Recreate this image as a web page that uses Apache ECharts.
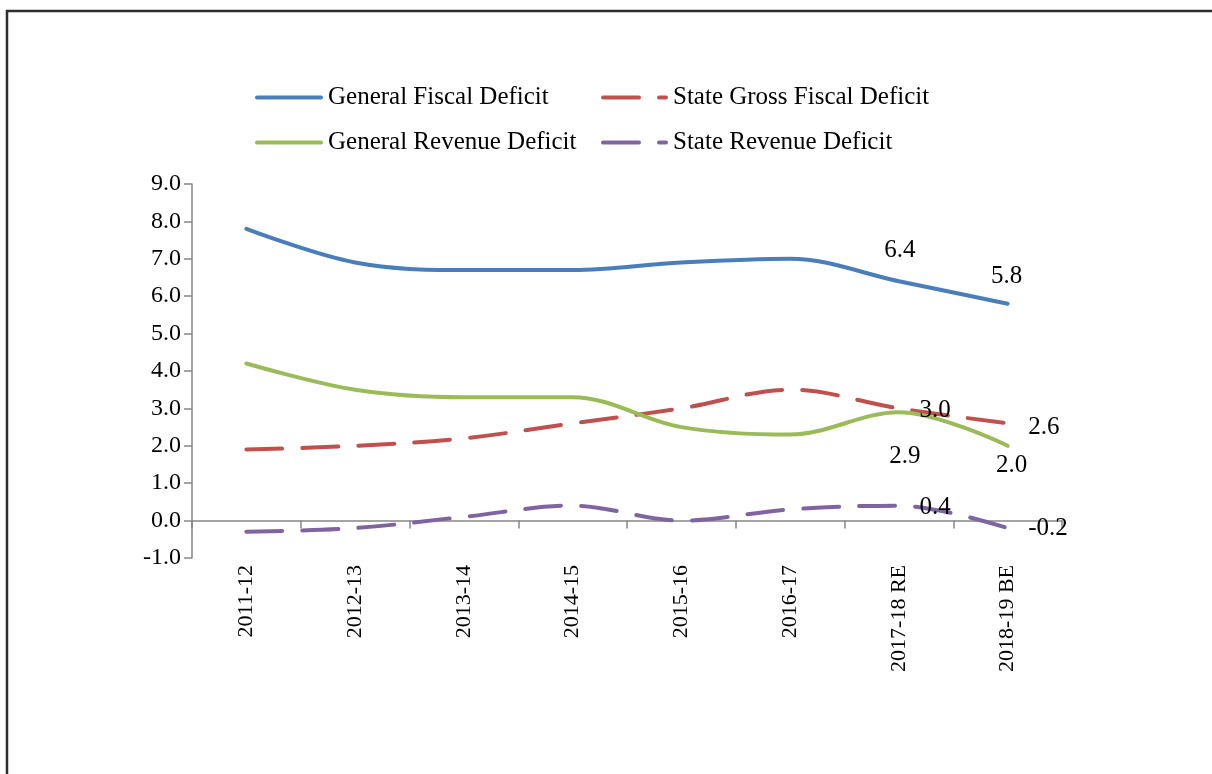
<!DOCTYPE html>
<html>
<head>
<meta charset="utf-8">
<script src="https://cdn.jsdelivr.net/npm/echarts@6/dist/echarts.min.js"></script>
<style>
html,body{margin:0;padding:0;background:#fff;}
#chart{width:1212px;height:774px;}
</style>
</head>
<body>
<div id="chart"></div>
<script>
const categories = ['2011-12','2012-13','2013-14','2014-15','2015-16','2016-17','2017-18 RE','2018-19 BE'];
const generalFiscalDeficit = [7.8, 6.9, 6.7, 6.7, 6.9, 7.0, 6.4, 5.8];
const stateGrossFiscalDeficit = [1.9, 2.0, 2.2, 2.6, 3.0, 3.5, 3.0, 2.6];
const generalRevenueDeficit = [4.2, 3.5, 3.3, 3.3, 2.5, 2.3, 2.9, 2.0];
const stateRevenueDeficit = [-0.3, -0.2, 0.1, 0.4, 0.0, 0.3, 0.4, -0.2];
const yTicks = [-1, 0, 1, 2, 3, 4, 5, 6, 7, 8, 9];

const FONT = '"Liberation Serif","Times New Roman",serif';
const TXT = 25;
const labelBase = {show: true, opacity: 1, fontFamily: FONT, fontSize: TXT, color: '#000', formatter: p => Number(p.value).toFixed(1)};

// label placement for the last two points of each series
function withLabels(values, lastLabels) {
  return values.map((v, i) => {
    const k = i - (values.length - 2);
    if (k >= 0 && lastLabels[k]) {
      return {
        value: v,
        symbol: 'circle', symbolSize: 1,
        itemStyle: {color: 'rgba(0,0,0,0)', borderWidth: 0},
        label: Object.assign({}, labelBase, lastLabels[k])
      };
    }
    return v;
  });
}

const chart = echarts.init(document.getElementById('chart'), null, {renderer: 'canvas'});
const lineW = 4;
const dash = [36, 20];

const legendCommon = {
  orient: 'vertical',
  top: 80,
  itemHeight: 14, itemGap: 20,
  itemStyle: {opacity: 0},
  lineStyle: {width: 4, cap: 'round'},
  textStyle: {fontFamily: FONT, fontSize: TXT, color: '#000', lineHeight: 24, padding: [0, 0, 0, 2]}
};

chart.setOption({
  animation: false,
  backgroundColor: '#fff',
  textStyle: {fontFamily: FONT},
  graphic: [{
    type: 'polyline',
    shape: {points: [[7, 774], [7, 11], [1212, 11]]},
    style: {stroke: '#2e2e2e', lineWidth: 2.5, fill: null}
  }],
  legend: [Object.assign({}, legendCommon, {
    left: 250, itemWidth: 64,
    data: ['General Fiscal Deficit', 'General Revenue Deficit']
  }), Object.assign({}, legendCommon, {
    left: 596, itemWidth: 63,
    data: ['State Gross Fiscal Deficit', 'State Revenue Deficit']
  })],
  grid: {left: 192, right: 150, top: 184, bottom: 216, containLabel: false},
  xAxis: [{
    type: 'category',
    data: categories,
    boundaryGap: true,
    axisLine: {show: true, onZero: true, lineStyle: {color: '#868686', width: 1.5}},
    axisTick: {show: true, length: 8, lineStyle: {color: '#868686', width: 1.5}},
    axisLabel: {show: false},
    splitLine: {show: false}
  }, {
    type: 'category',
    data: categories,
    position: 'bottom',
    boundaryGap: true,
    axisLine: {show: false, onZero: false},
    axisTick: {show: false},
    axisLabel: {show: true, rotate: 90, margin: 7, fontFamily: FONT, fontSize: 22, color: '#000', interval: 0},
    splitLine: {show: false}
  }],
  yAxis: {
    type: 'value',
    min: yTicks[0], max: yTicks[yTicks.length - 1], interval: 1,
    axisLine: {show: true, lineStyle: {color: '#868686', width: 1.5}},
    axisTick: {show: true, length: 8, lineStyle: {color: '#868686', width: 1.5}},
    axisLabel: {margin: 11, fontFamily: FONT, fontSize: 24, color: '#000', formatter: v => v.toFixed(1)},
    splitLine: {show: false}
  },
  series: [{
    name: 'General Fiscal Deficit',
    type: 'line', smooth: 0.35, symbol: 'none', xAxisIndex: 0,
    lineStyle: {color: '#4A7EBB', width: lineW, cap: 'round'},
    itemStyle: {color: '#4A7EBB'},
    data: withLabels(generalFiscalDeficit, [
      {position: 'top', distance: 18, offset: [1, 0]},
      {position: 'top', distance: 14, offset: [-1, 0]}
    ])
  }, {
    name: 'State Gross Fiscal Deficit',
    type: 'line', smooth: 0.35, symbol: 'none', xAxisIndex: 0,
    lineStyle: {color: '#C0504D', width: lineW, type: dash, cap: 'round'},
    itemStyle: {color: '#C0504D'},
    data: withLabels(stateGrossFiscalDeficit, [
      {position: 'right', distance: 20, offset: [0, 2]},
      {position: 'right', distance: 20, offset: [0, 4]}
    ])
  }, {
    name: 'General Revenue Deficit',
    type: 'line', smooth: 0.35, symbol: 'none', xAxisIndex: 0,
    lineStyle: {color: '#9BBB59', width: lineW, cap: 'round'},
    itemStyle: {color: '#9BBB59'},
    data: withLabels(generalRevenueDeficit, [
      {position: 'bottom', distance: 31, offset: [6, 0]},
      {position: 'bottom', distance: 7, offset: [4, 0]}
    ])
  }, {
    name: 'State Revenue Deficit',
    type: 'line', smooth: 0.35, symbol: 'none', xAxisIndex: 0,
    lineStyle: {color: '#8064A2', width: lineW, type: dash, cap: 'round'},
    itemStyle: {color: '#8064A2'},
    data: withLabels(stateRevenueDeficit, [
      {position: 'right', distance: 20, offset: [0, 2]},
      {position: 'right', distance: 18, offset: [2, 0]}
    ])
  }]
});
</script>
</body>
</html>
